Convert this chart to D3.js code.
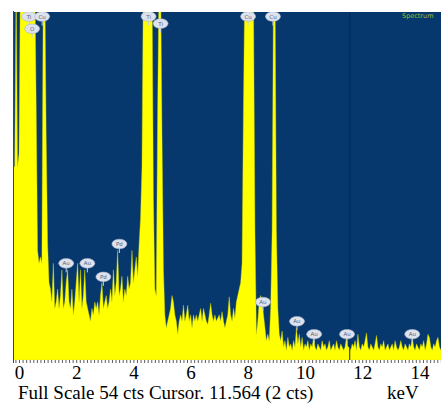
<!DOCTYPE html>
<html><head><meta charset="utf-8">
<script src="https://cdn.jsdelivr.net/npm/d3@7/dist/d3.min.js"></script>
<style>body{margin:0;background:#fff}svg{display:block}.serif{font-family:"Liberation Serif","Times New Roman",serif}</style>
</head><body>
<svg id="c" width="441" height="404"></svg>
<script>
// ---- data ----
const energyStart = -0.2;   // keV of first channel
const energyStep = 0.05;    // keV per channel
const counts = [
  30, 30, 80, 30,
  32, 70, 90, 90, 90, 90, 90, 90, 90, 90, 90, 90, 40, 17, 15, 16, 15, 80, 70, 35,
  18, 12, 11, 9, 15, 8, 9, 11, 8, 10, 14, 8, 9, 12, 14, 9, 8, 11, 7, 9,
  12, 15, 9, 14, 8, 10, 14, 9, 8, 7, 6, 8, 7, 9, 8, 9, 7, 10, 12, 8,
  9, 10, 8, 9, 11, 9, 14, 10, 12, 17, 10, 11, 13, 9, 11, 10, 13, 11, 12, 17,
  12, 14, 16, 13, 18, 22, 30, 65, 80, 90, 90, 90, 80, 65, 25, 11, 10, 40, 70, 70,
  35, 14, 7, 5, 6, 7, 8, 10, 9, 7, 6, 4, 6, 7, 6, 8.5, 6, 7, 8.5, 6,
  7, 5, 7, 6, 7, 6, 7, 8, 6, 8, 7, 6, 5.5, 7, 8.8, 7, 6, 7, 6, 6.5,
  7, 6, 7.5, 6, 5, 6, 7, 9.8, 7, 6, 8, 6.5, 9, 10, 11, 12, 15, 40, 80, 90,
  90, 90, 90, 80, 55, 20, 4, 6, 9, 10, 9, 7, 5, 3, 4, 3, 8, 20, 70, 70,
  20, 8, 4, 3, 4.5, 2, 3, 1.5, 3.5, 2, 2.5, 1.5, 3, 2, 5, 2.5, 4, 2, 3.5, 1.5,
  2.5, 2, 3, 1.5, 2.5, 2, 3.5, 2, 1.5, 2.5, 2, 1.5, 3, 2, 2.5, 1.5, 2, 3, 1.5, 2,
  2.5, 1.5, 3, 2, 1.5, 2.5, 2, 1.5, 2, 3.5, 2, 2, 1.5, 2.5, 2, 3, 1.5, 4, 2, 1.5,
  2.5, 2, 3, 4.2, 2, 1.5, 2.5, 2, 1.5, 2.5, 3.8, 2, 1.5, 2.5, 2, 3, 1.5, 2, 2.5, 1.5,
  2, 2.5, 1.5, 3, 2, 1.5, 2, 3, 2, 1.5, 2.5, 2, 1.5, 2.5, 2, 3.5, 2, 1.5, 2.5, 2,
  1.5, 2.5, 2, 3, 1.5, 2.5, 4, 3.5, 2, 1.5, 2.5, 2, 3, 3.5, 2, 1.5, 2.5, 2, 3, 2,
  2.5, 2, 2
];
const xTicks = [0, 2, 4, 6, 8, 10, 12, 14];
const labelElements = ["Ti", "O", "Cu", "Ti", "Ti", "Cu", "Cu", "Au", "Au", "Pd", "Pd", "Au", "Au", "Au", "Au", "Au"];
const labelEnergies = [0.35, 0.46, 0.81, 4.53, 4.95, 8.01, 8.88, 1.65, 2.39, 2.95, 3.51, 8.53, 9.72, 10.32, 11.47, 13.75];
const labelCounts   = [53.3, 51.4, 53.3, 53.3, 52.2, 53.3, 53.3, 15, 15, 12.9, 18, 9, 6, 4, 4, 4];
const fullScale = 54;
const cursorEnergy = 11.564;
const cursorCounts = 2;
const unit = "keV";
const panelTitle = "Spectrum";

// ---- drawing ----
const svg = d3.select("#c");
const pL = 13, pR = 441, pT = 12, pB = 360;
const x = d3.scaleLinear().domain([0, 14]).range([19, 419.4]);
const y = d3.scaleLinear().domain([0, fullScale]).range([pB, pT]);

svg.append("defs").append("clipPath").attr("id", "clip")
  .append("rect").attr("x", pL).attr("y", pT).attr("width", pR - pL).attr("height", pB - pT);

svg.append("rect").attr("x", pL).attr("y", pT).attr("width", pR - pL).attr("height", pB - pT)
  .attr("fill", "#06386e");

const data = counts.map((c, i) => ({ e: energyStart + i * energyStep, c }));
const area = d3.area().x(d => x(d.e)).y0(y(0)).y1(d => y(Math.min(d.c, fullScale + 6)));
svg.append("path").datum(data).attr("clip-path", "url(#clip)")
  .attr("fill", "#ffff00").attr("stroke", "#d8d800").attr("stroke-width", 0.4).attr("d", area);

// cursor line
svg.append("line").attr("x1", x(cursorEnergy)).attr("x2", x(cursorEnergy))
  .attr("y1", pT).attr("y2", pB).attr("stroke", "#0b2848").attr("stroke-width", 1);

// peak labels
const lg = svg.append("g").attr("clip-path", "url(#clip)");
labelElements.forEach((el, i) => {
  const cx = x(labelEnergies[i]), cy = y(labelCounts[i]);
  lg.append("line").attr("x1", cx).attr("x2", cx).attr("y1", cy + 4).attr("y2", cy + 9)
    .attr("stroke", "#c8d0e0").attr("stroke-width", 1);
  lg.append("ellipse").attr("cx", cx).attr("cy", cy).attr("rx", 7.5).attr("ry", 4.8)
    .attr("fill", "#dde2ec").attr("stroke", "#a8b4cc").attr("stroke-width", 0.6);
  lg.append("text").attr("x", cx).attr("y", cy + 2).attr("text-anchor", "middle")
    .attr("font-family", "DejaVu Sans, sans-serif").attr("font-size", 5.5).attr("fill", "#5a6478")
    .text(el);
});

svg.append("text").attr("x", 402).attr("y", 18).attr("font-family", "DejaVu Sans, sans-serif")
  .attr("font-size", 6.5).attr("fill", "#9cc030").text(panelTitle);

// left border
svg.append("line").attr("x1", pL + 0.5).attr("x2", pL + 0.5).attr("y1", pT - 1).attr("y2", pB + 3)
  .attr("stroke", "#444").attr("stroke-width", 1);

// minor ticks
const minor = svg.append("g").attr("transform", `translate(0,${pB})`)
  .call(d3.axisBottom(x).tickValues(d3.range(-0.125, 15.1, 0.125)).tickSize(3).tickFormat(""));
minor.select(".domain").remove();
minor.selectAll("line").attr("stroke", "#333").attr("stroke-width", 0.8);

// major tick labels
const major = svg.append("g").attr("transform", `translate(0,${pB})`)
  .call(d3.axisBottom(x).tickValues(xTicks).tickSize(0))
  .attr("font-family", null).attr("font-size", null);
major.select(".domain").remove();
major.selectAll("text").attr("y", 19).attr("dy", 0).attr("class", "serif")
  .style("font-size", "19px").attr("fill", "#000");

svg.append("text").attr("class", "serif").attr("x", 18).attr("y", 399).style("font-size", "19px")
  .text(`Full Scale ${fullScale} cts Cursor. ${cursorEnergy} (${cursorCounts} cts)`);
svg.append("text").attr("class", "serif").attr("x", 387).attr("y", 399).style("font-size", "19px")
  .text(unit);
</script>
</body></html>
